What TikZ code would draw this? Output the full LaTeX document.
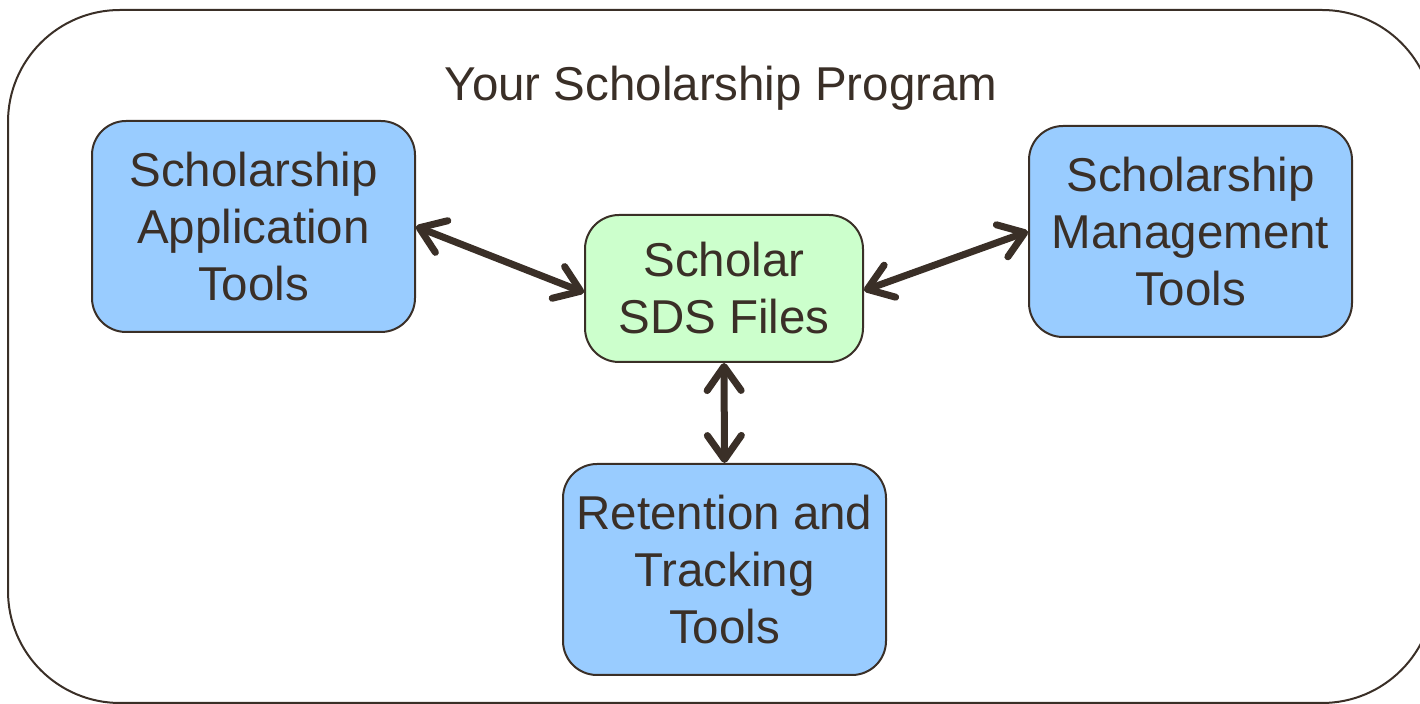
\documentclass[tikz,border=0pt]{standalone}
\usepackage{fontspec}
\setmainfont{Liberation Sans}
\usetikzlibrary{arrows.meta}

\definecolor{darkline}{RGB}{58,47,39}
\definecolor{toolblue}{RGB}{153,204,255}
\definecolor{filegreen}{RGB}{204,255,204}

\begin{document}
\begin{tikzpicture}[x=0.5pt,y=-0.5pt,
    tool/.style={draw=darkline, line width=1pt, fill=toolblue, rounded corners=17pt,
        minimum width=161.5pt, minimum height=105.5pt, inner sep=0pt,
        align=center, text=darkline, font=\fontsize{23.75}{28.5}\selectfont},
    files/.style={tool, fill=filegreen, minimum width=139pt, minimum height=73.5pt},
    link/.style={draw=darkline, line width=3.5pt,
        {Straight Barb[round,length=12pt,width=17pt]}-{Straight Barb[round,length=12pt,width=17pt]}}]
    \useasboundingbox (0,0) rectangle (1420,704);
    % outer frame
    \draw[darkline, line width=1pt, rounded corners=56pt] (8,10) rectangle (1434,703);
    \node[text=darkline, font=\fontsize{23.75}{28.5}\selectfont] (title) at (721,88) {Your Scholarship Program};

    \node[tool] (apply) at (253.5,226.5) {Scholarship\\Application\\Tools};
    \node[tool] (manage) at (1190.5,231.5) {Scholarship\\Management\\Tools};
    \node[files] (sds) at (724,288.5) {Scholar\\SDS Files};
    \node[tool] (retain) at (724.5,569.5) {Retention and\\Tracking\\Tools};

    \draw[link] (apply.east) -- ([yshift=-2pt]sds.west);
    \draw[link] ([yshift=-1pt]sds.east) -- (manage.west);
    \draw[link] (sds.south) -- (retain.north);
\end{tikzpicture}
\end{document}
